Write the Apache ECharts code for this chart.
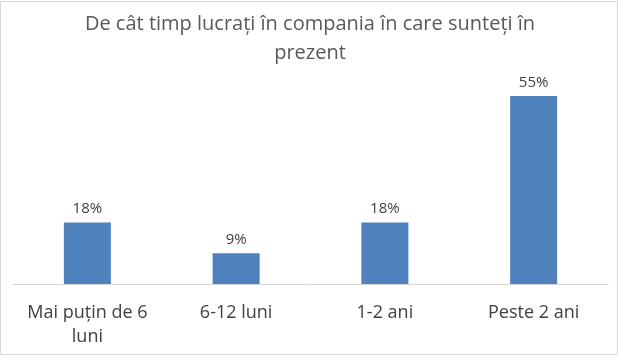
<!DOCTYPE html>
<html><head><meta charset="utf-8">
<script src="https://cdn.jsdelivr.net/npm/echarts@6/dist/echarts.min.js"></script>
<style>html,body{margin:0;padding:0;background:#fff}#c{width:620px;height:356px}</style>
</head><body><div id="c"></div>
<script>
const categories = ['Mai puțin de 6\nluni', '6-12 luni', '1-2 ani', 'Peste 2 ani'];
const values = [18, 9, 18, 55];
const titleText = 'De cât timp lucrați în compania în care sunteți în\nprezent';

const chart = echarts.init(document.getElementById('c'), null, {renderer: 'canvas'});
chart.setOption({
  animation: false,
  backgroundColor: '#fff',
  title: {
    text: titleText, left: 'center', top: 5,
    textStyle: {fontFamily: 'Open Sans', fontSize: 20, fontWeight: 'normal', color: '#595959', lineHeight: 29}
  },
  graphic: [{type: 'rect', shape: {x: 0.5, y: 1.5, width: 617, height: 353}, style: {fill: 'none', stroke: '#d9d9d9', lineWidth: 1}}],
  grid: {left: 13, right: 12, top: 79, bottom: 72},
  xAxis: {
    type: 'category', data: categories,
    axisLine: {lineStyle: {color: '#d9d9d9'}},
    axisTick: {show: false},
    axisLabel: {fontFamily: 'Open Sans', fontSize: 18, color: '#404040', lineHeight: 24, margin: 17, interval: 0}
  },
  yAxis: {type: 'value', min: 0, max: 60, show: false, splitLine: {show: false}},
  series: [{
    type: 'bar', data: values, barWidth: 47,
    itemStyle: {color: '#4f81bd'},
    label: {show: true, position: 'top', formatter: '{c}%', fontFamily: 'Open Sans', fontSize: 15, color: '#404040', distance: 6}
  }]
});
</script></body></html>
